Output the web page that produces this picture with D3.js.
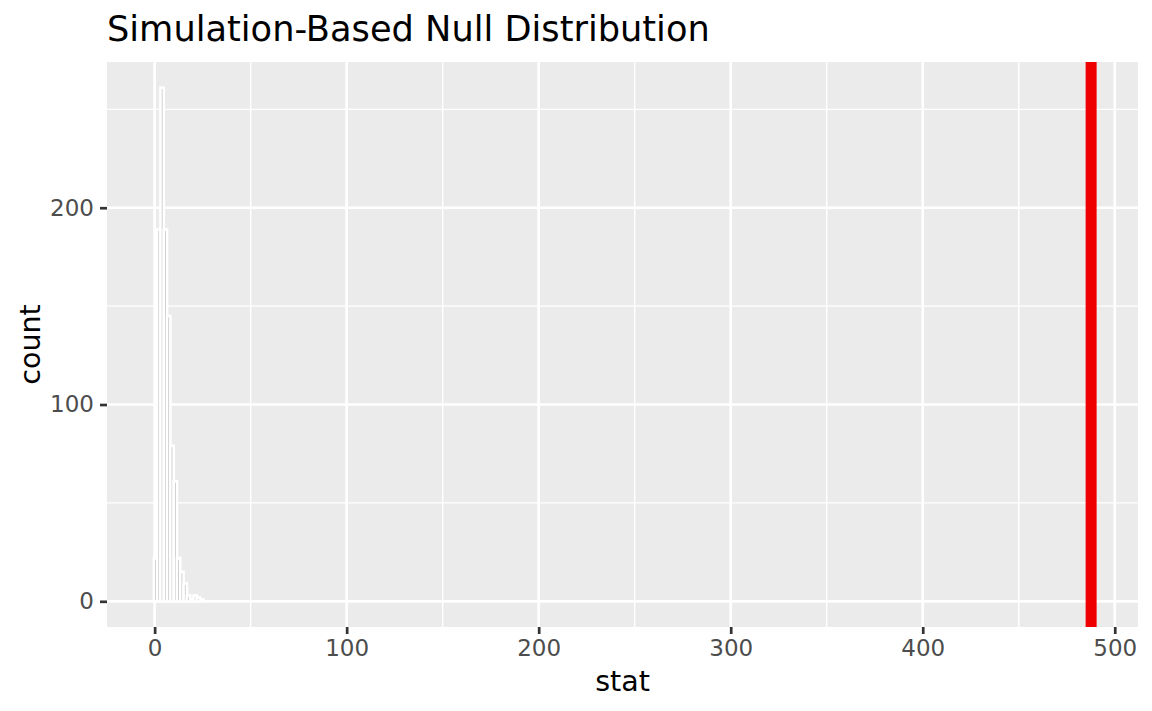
<!DOCTYPE html>
<html>
<head>
<meta charset="utf-8">
<script src="https://cdn.jsdelivr.net/npm/d3@7"></script>
<style>
  body { margin: 0; background: #fff; }
  text { font-family: "DejaVu Sans", sans-serif; }
</style>
</head>
<body>
<svg id="chart" width="1152" height="711"></svg>
<script>
// histogram of simulated statistics (15 bins)
var binCenters = [0.46, 2.18, 3.90, 5.62, 7.34, 9.06, 10.78, 12.50, 14.22, 15.94, 17.66, 19.38, 21.10, 22.82, 24.54];
var binCounts = [22, 189, 261, 189, 145, 79, 61, 22, 15, 9, 3, 1, 3, 2, 1];
var binWidth = 1.72;
var obsStat = 487.7;
var xTicks = [0, 100, 200, 300, 400, 500];
var xMinor = [50, 150, 250, 350, 450];
var yTicks = [0, 100, 200];
var yMinor = [50, 150, 250];
var titleText = "Simulation-Based Null Distribution";

var svg = d3.select("#chart");
var panel = { left: 107, top: 62, right: 1138, bottom: 627 };

// ggplot style 5% expansion
var xLo = binCenters[0] - binWidth / 2, xHi = obsStat;
var xPad = (xHi - xLo) * 0.05;
var x = d3.scaleLinear().domain([xLo - xPad, xHi + xPad]).range([panel.left, panel.right]);
var yMax = d3.max(binCounts);
var y = d3.scaleLinear().domain([-yMax * 0.05, yMax * 1.05]).range([panel.bottom, panel.top]);

svg.append("rect")
    .attr("x", panel.left).attr("y", panel.top)
    .attr("width", panel.right - panel.left).attr("height", panel.bottom - panel.top)
    .attr("fill", "#EBEBEB");

// grid lines
var grid = svg.append("g");
grid.selectAll(".xmin").data(xMinor).enter().append("line")
    .attr("x1", function (d) { return x(d); }).attr("x2", function (d) { return x(d); })
    .attr("y1", panel.top).attr("y2", panel.bottom)
    .attr("stroke", "#fff").attr("stroke-width", 1.4);
grid.selectAll(".ymin").data(yMinor).enter().append("line")
    .attr("y1", function (d) { return y(d); }).attr("y2", function (d) { return y(d); })
    .attr("x1", panel.left).attr("x2", panel.right)
    .attr("stroke", "#fff").attr("stroke-width", 1.4);
grid.selectAll(".xmaj").data(xTicks).enter().append("line")
    .attr("x1", function (d) { return x(d); }).attr("x2", function (d) { return x(d); })
    .attr("y1", panel.top).attr("y2", panel.bottom)
    .attr("stroke", "#fff").attr("stroke-width", 2.7);
grid.selectAll(".ymaj").data(yTicks).enter().append("line")
    .attr("y1", function (d) { return y(d); }).attr("y2", function (d) { return y(d); })
    .attr("x1", panel.left).attr("x2", panel.right)
    .attr("stroke", "#fff").attr("stroke-width", 2.7);

// bars
svg.append("g").selectAll("rect").data(binCenters).enter()
    .append("rect")
    .attr("x", function (d) { return x(d - binWidth / 2); })
    .attr("width", function (d) { return x(d + binWidth / 2) - x(d - binWidth / 2); })
    .attr("y", function (d, i) { return y(binCounts[i]); })
    .attr("height", function (d, i) { return y(0) - y(binCounts[i]); })
    .attr("fill", "#BEBEBE")
    .attr("stroke", "#fff")
    .attr("stroke-width", 2.6);

// observed statistic
svg.append("line")
    .attr("x1", x(obsStat)).attr("x2", x(obsStat))
    .attr("y1", panel.top).attr("y2", panel.bottom)
    .attr("stroke", "#EE0000").attr("stroke-width", 11);

// axes
var xAxis = d3.axisBottom(x).tickValues(xTicks).tickSize(7).tickPadding(6);
var gx = svg.append("g").attr("transform", "translate(0," + panel.bottom + ")").call(xAxis);
var yAxis = d3.axisLeft(y).tickValues(yTicks).tickSize(7).tickPadding(6);
var gy = svg.append("g").attr("transform", "translate(" + panel.left + ",0)").call(yAxis);
[gx, gy].forEach(function (g) {
    g.select(".domain").remove();
    g.selectAll(".tick line").attr("stroke", "#333333").attr("stroke-width", 2.7);
    g.selectAll(".tick text").attr("fill", "#4D4D4D").style("font-size", "23px");
});

svg.append("text")
    .attr("x", (panel.left + panel.right) / 2).attr("y", 691)
    .attr("text-anchor", "middle")
    .style("font-size", "28.5px").attr("fill", "#000")
    .text("stat");
svg.append("text")
    .attr("transform", "translate(40," + (panel.top + panel.bottom) / 2 + ") rotate(-90)")
    .attr("text-anchor", "middle")
    .style("font-size", "28.5px").attr("fill", "#000")
    .text("count");
svg.append("text")
    .attr("x", panel.left).attr("y", 41)
    .style("font-size", "35.2px").attr("fill", "#000")
    .text(titleText);
</script>
</body>
</html>
